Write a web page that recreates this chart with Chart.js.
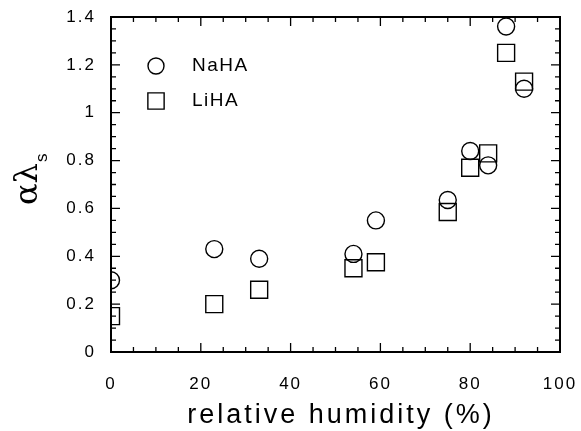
<!DOCTYPE html>
<html>
<head>
<meta charset="utf-8">
<script src="https://cdn.jsdelivr.net/npm/chart.js@4/dist/chart.umd.min.js"></script>
<style>
  html, body { margin: 0; padding: 0; background: #fff; }
  #wrap { width: 581px; height: 431px; }
</style>
</head>
<body>
<div id="wrap"><canvas id="c" width="581" height="431"></canvas></div>
<script>
// data
const humidity = [0, 23, 33, 54, 59, 75, 80, 84, 88, 92];
const naha = [0.30, 0.43, 0.39, 0.41, 0.55, 0.635, 0.84, 0.78, 1.36, 1.10];
const liha = [0.15, 0.20, 0.26, 0.35, 0.375, 0.585, 0.77, 0.83, 1.25, 1.13];
const seriesNames = ['NaHA', 'LiHA'];
const xTicks = [0, 20, 40, 60, 80, 100];
const yTicks = [0, 0.2, 0.4, 0.6, 0.8, 1, 1.2, 1.4];

const ink = '#000';
const sans = "'Liberation Sans', Arial, sans-serif";

// frame with inward ticks on all four sides
const framePlugin = {
    id: 'frame',
    beforeDatasetsDraw(chart) {
        const { ctx, chartArea: a, scales: { x, y } } = chart;
        ctx.save();
        ctx.strokeStyle = ink;
        ctx.lineWidth = 2;
        ctx.strokeRect(a.left, a.top, a.right - a.left, a.bottom - a.top);
        ctx.lineWidth = 1.3;
        ctx.beginPath();
        for (let v = 0; v <= 100; v += 5) {
            const px = x.getPixelForValue(v);
            const len = v % 20 === 0 ? 9 : 5;
            ctx.moveTo(px, a.bottom); ctx.lineTo(px, a.bottom - len);
            ctx.moveTo(px, a.top); ctx.lineTo(px, a.top + len);
        }
        for (let i = 0; i <= 28; i++) {
            const py = y.getPixelForValue(i * 0.05);
            const len = i % 4 === 0 ? 9 : 5;
            ctx.moveTo(a.left, py); ctx.lineTo(a.left + len, py);
            ctx.moveTo(a.right, py); ctx.lineTo(a.right - len, py);
        }
        ctx.stroke();
        ctx.restore();
    },
    // x tick labels are drawn after the datasets (z: 1), wider spaced
    afterDatasetsDraw(chart) {
        chart.ctx.letterSpacing = '5px';
    }
};

// axis titles and the legend
const textPlugin = {
    id: 'texts',
    beforeDraw(chart) {
        chart.ctx.letterSpacing = '2px';
    },
    afterDraw(chart) {
        const ctx = chart.ctx;
        ctx.save();
        ctx.fillStyle = ink;

        // x title
        ctx.letterSpacing = '3px';
        ctx.font = '27px ' + sans;
        ctx.textAlign = 'center';
        ctx.textBaseline = 'alphabetic';
        ctx.fillText('relative humidity (%)', 341, 423);

        // y title: alpha lambda with subscript s
        ctx.letterSpacing = '0px';
        ctx.save();
        ctx.translate(37, 205);
        ctx.rotate(-Math.PI / 2);
        ctx.textAlign = 'left';
        ctx.font = "32px 'DejaVu Serif', serif";
        ctx.fillText('αλ', 0, 0);
        const w = ctx.measureText('αλ').width;
        ctx.font = '17px ' + sans;
        ctx.fillText('s', w + 1, 10);
        ctx.restore();

        // legend
        ctx.letterSpacing = '1.5px';
        ctx.textAlign = 'left';
        ctx.textBaseline = 'middle';
        ctx.font = '19px ' + sans;
        chart.data.datasets.forEach((ds, i) => {
            const cy = 66 + i * 35;
            ctx.strokeStyle = ink;
            ctx.fillStyle = 'rgba(0,0,0,0)';
            ctx.lineWidth = ds.borderWidth;
            Chart.helpers.drawPoint(ctx, {
                pointStyle: ds.pointStyle,
                radius: ds.pointStyle === 'rect' ? 11.5 : 8,
                rotation: 0,
                borderWidth: ds.borderWidth
            }, 156, cy);
            ctx.fillStyle = ink;
            ctx.fillText(seriesNames[i], 192, cy);
        });
        ctx.restore();
    }
};

new Chart(document.getElementById('c'), {
    type: 'scatter',
    data: {
        datasets: [
            {
                label: seriesNames[0],
                data: humidity.map((h, i) => ({ x: h, y: naha[i] })),
                pointStyle: 'circle',
                pointRadius: 8.5,
                borderColor: ink,
                backgroundColor: 'rgba(0,0,0,0)',
                borderWidth: 1.4
            },
            {
                label: seriesNames[1],
                data: humidity.map((h, i) => ({ x: h, y: liha[i] })),
                pointStyle: 'rect',
                pointRadius: 12,
                borderColor: ink,
                backgroundColor: 'rgba(0,0,0,0)',
                borderWidth: 1.4
            }
        ]
    },
    options: {
        responsive: false,
        animation: false,
        devicePixelRatio: 1,
        layout: { padding: { top: 17, right: 21, left: 0, bottom: 0 } },
        plugins: {
            legend: { display: false },
            tooltip: { enabled: false }
        },
        scales: {
            x: {
                type: 'linear',
                min: 0,
                max: 100,
                z: 1,
                afterBuildTicks: s => { s.ticks = xTicks.map(v => ({ value: v })); },
                afterFit: s => { s.height = 79; s.paddingLeft = 0; s.paddingRight = 0; },
                grid: { display: false, drawTicks: false },
                border: { display: false },
                ticks: {
                    padding: 22,
                    color: ink,
                    font: { family: sans, size: 17 },
                    maxRotation: 0
                }
            },
            y: {
                type: 'linear',
                min: 0,
                max: 1.4,
                afterBuildTicks: s => { s.ticks = yTicks.map(v => ({ value: v })); },
                afterFit: s => { s.width = 111; s.paddingTop = 0; s.paddingBottom = 0; },
                grid: { display: false, drawTicks: false },
                border: { display: false },
                ticks: {
                    padding: 15,
                    color: ink,
                    font: { family: sans, size: 17 },
                    callback: v => String(Math.round(v * 10) / 10)
                }
            }
        }
    },
    plugins: [framePlugin, textPlugin]
});
</script>
</body>
</html>
